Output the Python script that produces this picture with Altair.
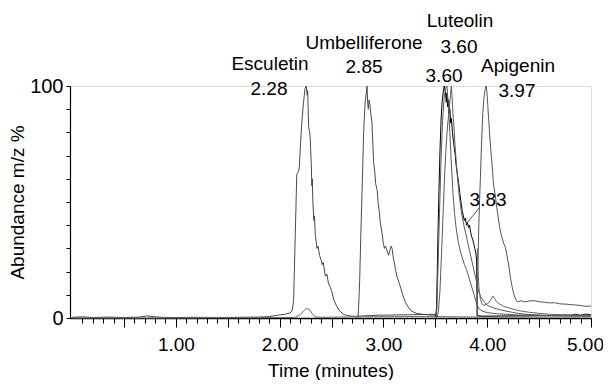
import altair as alt
import pandas as pd

# ---- chromatogram traces (time in minutes, relative abundance %) ----
esc_t = [0.00,0.10,0.20,0.35,0.50,0.65,0.72,0.78,0.85,1.00,1.20,1.40,1.60,1.80,1.90,1.98,2.05,2.10,2.12,2.135,2.15,2.165,2.18,2.19,2.205,2.215,2.23,2.245,2.257,2.265,2.27,2.275,2.28,2.29,2.295,2.305,2.31,2.315,2.32,2.33,2.335,2.345,2.36,2.37,2.385,2.40,2.41,2.42,2.44,2.455,2.47,2.49,2.505,2.52,2.545,2.57,2.60,2.62,2.66,2.72,2.80,2.95,3.10,3.25,3.40,3.50,3.515]
esc_v = [0.3,0.5,0.2,0.4,0.2,0.4,0.9,0.6,0.3,0.2,0.3,0.2,0.3,0.4,0.6,1.2,1.6,2.2,3.0,8,35,62,63,65,78,85,93,99,100,96,98,90,82,80,77,66,57,60,50,42,44,35,30,31,27,25,23,24,18,19,15,13,11,8,5.5,3.5,2.2,1.5,1.0,0.7,0.9,1.2,1.3,1.4,1.5,1.6,1.5]

bump_t = [0.0,1.0,2.0,2.15,2.20,2.23,2.26,2.29,2.32,2.35,2.40,2.6,2.8,3.2,3.5,3.9,4.5,5.0]
bump_v = [0,0,0.2,0.3,1.5,3.0,4.2,3.5,1.5,0.4,0.3,0.4,0.5,0.6,0.6,0.4,0.4,0.5]

umb_t = [2.755,2.762,2.771,2.784,2.797,2.809,2.818,2.826,2.835,2.842,2.848,2.854,2.862,2.870,2.878,2.89,2.898,2.905,2.915,2.925,2.94,2.95,2.96,2.97,2.985,3.00,3.01,3.02,3.035,3.05,3.06,3.075,3.083,3.095,3.105,3.115,3.13,3.145,3.163,3.185,3.21,3.235,3.26,3.29,3.32,3.38,3.45,3.515]
umb_v = [0.3,6,16,39,59,80,88,94,97,100,93,90,94,92,88,84,75,67,64,58,55,49,46,41,37,32,30,31,29,27,29,31,30,26,24,21,18,16,13.5,10,7,5,3.4,2.5,2.0,1.6,1.3,1.2]

luta_t = [3.50,3.505,3.512,3.518,3.525,3.535,3.545,3.555,3.565,3.575,3.585,3.592,3.60,3.606,3.612,3.618,3.625,3.632,3.64,3.648,3.655,3.665,3.675,3.69,3.70,3.71,3.725,3.735,3.75,3.76,3.77,3.78,3.79,3.80,3.81,3.82,3.83,3.84,3.85,3.86,3.87,3.88,3.89,3.898,3.903,3.95,4.2,4.5,4.8,4.85,4.9,4.95,5.0]
luta_v = [0.5,1,5,18,35,55,72,85,93,97,100,99,96,93,97,91,94,88,90,84,86,80,76,71,66,63,58,54,49,46,44,42,43,40,41,39,40,37,35,34,32,30,28,25,1,0.8,0.9,1.0,1.2,1.6,1.2,1.7,1.3]

lutb_t = [3.515,3.53,3.545,3.56,3.575,3.59,3.605,3.62,3.635,3.645,3.655,3.662,3.67,3.68,3.69,3.70,3.715,3.73,3.75,3.77,3.79,3.81,3.83,3.85,3.87,3.89,3.905,3.92,3.94,3.97,4.00,4.05,4.10,4.20,4.30,4.40,4.60,5.00]
lutb_v = [0,3,12,28,45,62,75,84,90,96,100,95,88,82,74,68,60,53,46,41,37,33,29,25,21,17,14,11,9,7,5.5,4.5,3.8,2.8,2.0,1.5,1.1,0.9]

lutc_t = [3.508,3.515,3.525,3.54,3.555,3.57,3.585,3.60,3.612,3.625,3.64,3.655,3.67,3.685,3.70,3.72,3.74,3.76,3.78,3.80,3.82,3.84,3.86,3.88,3.90,3.92,3.95,4.00,4.10,4.30,4.60,5.00]
lutc_v = [0,4,20,45,68,85,95,99,100,92,80,66,54,45,39,33,29,26,23,21,18,15,12,9,6,4,3,2.3,1.8,1.3,1.0,0.8]

api_t = [3.903,3.906,3.91,3.918,3.926,3.934,3.945,3.957,3.968,3.975,3.982,3.99,3.998,4.005,4.015,4.025,4.035,4.047,4.06,4.08,4.10,4.12,4.14,4.16,4.175,4.19,4.21,4.225,4.24,4.255,4.27,4.285,4.30,4.33,4.36,4.40,4.45,4.50,4.55,4.60,4.65,4.70,4.75,4.80,4.85,4.90,4.95,5.00]
api_v = [0,12,22,38,50,60,75,88,95,97,99,100,97,92,85,78,72,66,58,52,45,39,35,32,30.5,27,22,17,13.5,10.5,8.5,7.3,7.0,7.4,7.0,7.3,7.5,7.0,6.8,6.5,6.6,6.1,6.0,5.8,5.6,5.4,5.0,5.2]

sec_t = [3.905,3.912,3.92,3.935,3.95,3.97,4.00,4.03,4.055,4.07,4.09,4.12,4.16,4.22,4.30,4.40,4.50,4.60,4.80,5.00]
sec_v = [30,20,13,8,6,5.5,6.0,7.5,9.5,8.5,7,6,5,4.2,3.2,2.5,2.0,1.6,1.3,1.1]

series_names = ["esc", "bump", "umb", "luta", "lutb", "lutc", "api", "sec"]
series_t = [esc_t, bump_t, umb_t, luta_t, lutb_t, lutc_t, api_t, sec_t]
series_v = [esc_v, bump_v, umb_v, luta_v, lutb_v, lutc_v, api_v, sec_v]
series_col = ["#4a4a4a", "#6a6a6a", "#4a4a4a", "#000000", "#5a5a5a", "#5a5a5a", "#555555", "#666666"]

# ---- annotations ----
lab_text = ["Esculetin", "2.28", "Umbelliferone", "2.85", "Luteolin", "3.60", "3.60", "Apigenin", "3.97", "3.83"]
lab_t = [1.907, 1.897, 2.813, 2.813, 3.738, 3.728, 3.584, 4.297, 4.287, 4.008]
lab_v = [106.9, 96.1, 115.9, 105.6, 125.4, 114.2, 101.7, 106.0, 95.3, 48.3]
leader = pd.DataFrame({"t": [3.921], "v": [47.4], "t2": [3.805], "v2": [40.9]})

x_major = [0.5, 1.0, 1.5, 2.0, 2.5, 3.0, 3.5, 4.0, 4.5, 5.0]
x_minor = [round(i * 0.1, 1) for i in range(1, 51)]
y_ticks = [0, 10, 20, 30, 40, 50, 60, 70, 80, 90, 100]

rows = []
for name, ts, vs in zip(series_names, series_t, series_v):
    for i, (t, v) in enumerate(zip(ts, vs)):
        rows.append({"s": name, "i": i, "t": t, "v": v})
df = pd.DataFrame(rows)
labels = pd.DataFrame({"text": lab_text, "t": lab_t, "v": lab_v})

FONT = "Liberation Sans"
xscale = alt.Scale(domain=[-0.02, 5.0], nice=False, zero=False)
yscale = alt.Scale(domain=[0, 100], nice=False)

lines = alt.Chart(df).mark_line(strokeWidth=1).encode(
    x=alt.X("t:Q", scale=xscale, axis=alt.Axis(
        values=x_major, grid=False, title="Time (minutes)", orient="bottom",
        labelExpr="datum.value >= 1 && datum.value % 1 == 0 ? format(datum.value, '.2f') : ''",
        labelOffset={"condition": {"test": "datum.value == 5", "value": -6}, "value": 0},
        tickSize=9, labelOverlap=False, labelFlush=False, labelFont=FONT, labelFontSize=19,
        labelColor="black", labelPadding=8, titleFont=FONT, titleFontSize=19,
        titleFontWeight="normal", titleColor="black", titlePadding=7,
        domainColor="black", domainWidth=1.5, tickColor="black")),
    y=alt.Y("v:Q", scale=yscale, axis=alt.Axis(
        values=y_ticks, grid=False, title="Abundance m/z %",
        labelExpr="datum.value == 0 || datum.value == 100 ? datum.label : ''",
        tickSize=4, labelOverlap=False, labelFlush=False, labelFont=FONT, labelFontSize=20,
        labelColor="black", labelPadding=3, titleFont=FONT, titleFontSize=19,
        titleFontWeight="normal", titleColor="black", titlePadding=2,
        domainColor="black", domainWidth=1.2, tickColor="black")),
    color=alt.Color("s:N", scale=alt.Scale(domain=series_names, range=series_col), legend=None),
    detail="s:N",
    order="i:Q",
)

rule = alt.Chart(leader).mark_rule(color="#555555", strokeWidth=1).encode(
    x=alt.X("t:Q", scale=xscale, axis=alt.Axis(
        values=x_minor, orient="bottom", grid=False, title=None, labels=False,
        domain=False, tickSize=5, tickColor="black")),
    y=alt.Y("v:Q", scale=yscale, axis=None), x2="t2:Q", y2="v2:Q")

text = alt.Chart(labels).mark_text(font=FONT, fontSize=19, color="black", align="center", baseline="alphabetic").encode(
    x=alt.X("t:Q", scale=xscale, axis=None), y=alt.Y("v:Q", scale=yscale, axis=None), text="text:N")

chart = alt.layer(lines, rule, text).resolve_scale(x="shared", y="shared").resolve_axis(
    x="independent", y="independent").properties(
    width=521, height=232, autosize="none",
    padding={"left": 62, "top": 78, "right": 12, "bottom": 62},
).configure_view(stroke=None).configure(background="white")

chart.save("out.html", embed_options={"renderer": "svg", "actions": False})
